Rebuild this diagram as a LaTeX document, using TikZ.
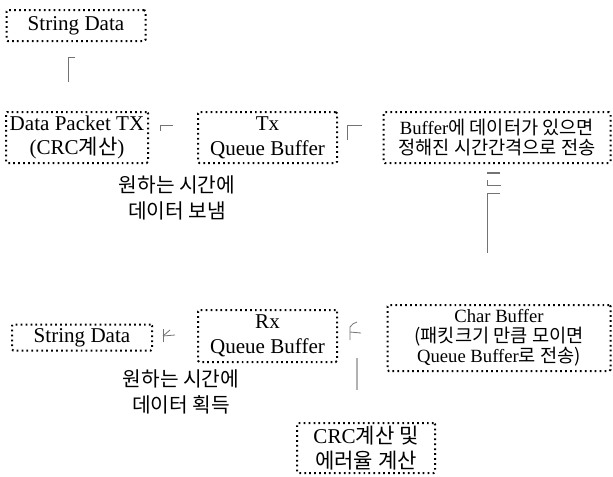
\documentclass[tikz,border=0pt]{standalone}
\usepackage{fontspec}
\setmainfont{Liberation Serif}
\newfontfamily\kr{Noto Sans CJK KR}
\newcommand\ko[1]{{\kr #1}}
\newlength\px
\setlength\px{0.75pt}

\begin{document}
\begin{tikzpicture}[x=\px, y=-\px]

    \tikzset{
        box/.style={draw, line width=1.5pt, dash pattern=on 1.3pt off 2.4pt,
            rounded corners=1pt, align=center, inner sep=0pt,
            font=\fontsize{15.8}{18.5}\selectfont},
        smallbox/.style={box, font=\fontsize{14}{15}\selectfont},
        lbl/.style={align=center, font=\fontsize{15.2}{19}\selectfont\kr},
        frag/.style={draw=black!55, line width=0.6pt}
    }

    \useasboundingbox (0,0) rectangle (613,476);

    % transmit side
    \node[box, minimum width=139\px, minimum height=31\px] (strtx) at (76,25.5) {String Data};
    \node[box, minimum width=142\px, minimum height=51\px] (packet) at (77,137.5)
        {Data Packet TX\\(CRC\ko{계산})};
    \node[box, minimum width=139\px, minimum height=51\px] (txq) at (267.5,137.5)
        {Tx\\Queue Buffer};
    \node[smallbox, minimum width=227\px, minimum height=51\px] (sendbuf) at (497,137.5)
        {Buffer\ko{에 데이터가 있으면}\\\ko{정해진 시간간격으로 전송}};
    \node[lbl] (txlbl) at (177,198) {원하는 시간에\\데이터 보냄};

    % receive side
    \node[box, minimum width=140\px, minimum height=26\px] (strrx) at (82,337.5) {String Data};
    \node[box, minimum width=139\px, minimum height=52\px] (rxq) at (267.5,336)
        {Rx\\Queue Buffer};
    \node[smallbox, minimum width=223\px, minimum height=66\px] (charbuf) at (499,338)
        {Char Buffer\\\ko{(패킷크기 만큼 모이면}\\Queue Buffer\ko{로 전송)}};
    \node[box, minimum width=138\px, minimum height=50\px] (crc) at (366,448)
        {CRC\ko{계산 및}\\\ko{에러율 계산}};
    \node[lbl] (rxlbl) at (181,392) {원하는 시간에\\데이터 획득};

    % what is left of the arrows
    \draw[frag] (75,57) -- (68,57) -- (68,82);
    \draw[frag] (160,131) -- (160,125) -- (173,125);
    \draw[frag] (347,140) -- (347,125) -- (362,125);
    \draw[frag, line width=1.2pt] (487,173) -- (500,173);
    \draw[frag] (487,180) -- (487,185) -- (501,185);
    \draw[frag] (500,193) -- (487,193) -- (487,253);
    \draw[frag] (163,342) -- (163,329);
    \draw[frag] (163,336) -- (175,335);
    \draw[frag] (163,336) -- (170,330);
    \draw[frag] (350,340) -- (350,327) to[bend left=20] (357,322);
    \draw[frag] (350,332) -- (361,333);
    \draw[frag, line width=1.6pt, draw=black!30] (357,358) -- (357,390);

\end{tikzpicture}
\end{document}
